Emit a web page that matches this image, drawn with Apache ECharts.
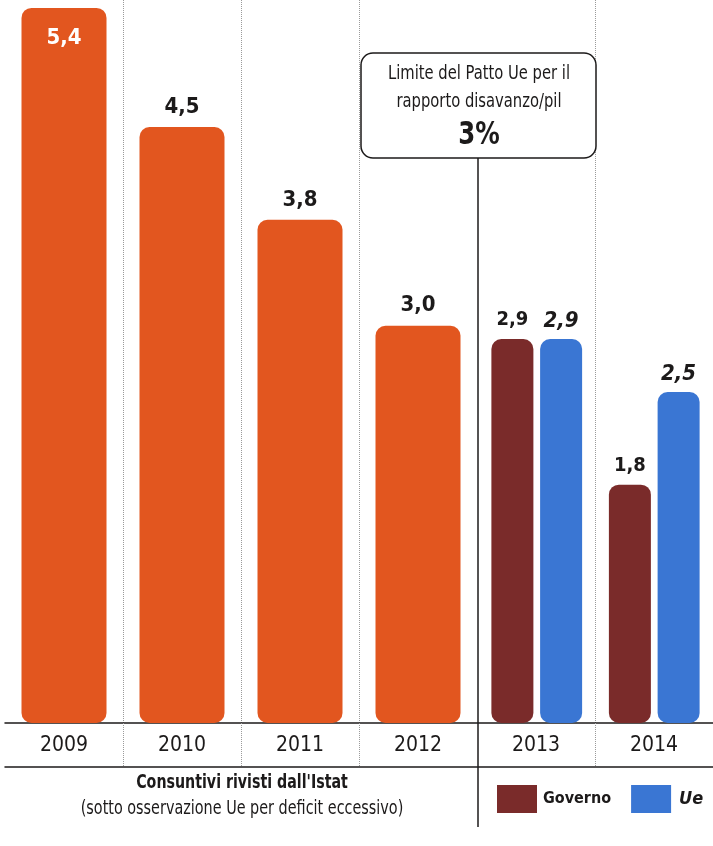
<!DOCTYPE html>
<html>
<head>
<meta charset="utf-8">
<style>
  html, body { margin: 0; padding: 0; background: #ffffff; }
  #chart { width: 713px; height: 846px; }
</style>
<script src="https://cdn.jsdelivr.net/npm/echarts@6/dist/echarts.min.js"></script>
</head>
<body>
<div id="chart"></div>
<script>
// ---- data ----
const categories = ['2009', '2010', '2011', '2012', '2013', '2014'];
const consuntivi = [5.4, 4.5, 3.8, 3.0, null, null];
const governo = [null, null, null, null, 2.9, 1.8];
const ue = [null, null, null, null, 2.9, 2.5];
const seriesNames = ['Consuntivi', 'Governo', 'Ue'];
const boxLines = ['Limite del Patto Ue per il', 'rapporto disavanzo/pil', '3%'];
const footTitle = "Consuntivi rivisti dall'Istat";
const footSub = '(sotto osservazione Ue per deficit eccessivo)';

// ---- styles ----
const FONT = "'Liberation Sans Narrow', 'DejaVu Sans Condensed', 'Roboto', sans-serif";
const INK = '#1c1a1a';
const ORANGE = '#e2561f';
const MAROON = '#7a2b2a';
const BLUE = '#3a76d3';

const fmt = p => (p.value == null ? '' : Number(p.value).toFixed(1).replace('.', ','));
const maxVal = Math.max(...consuntivi.filter(v => v != null));
const skipBoundary = (idx) => idx !== 0 && idx !== 4;

const chart = echarts.init(document.getElementById('chart'), null, { renderer: 'canvas' });

const option = {
  backgroundColor: '#ffffff',
  animation: false,
  grid: [
    { left: 5, right: 0, top: 0, bottom: 123, containLabel: false },
    { left: 8, right: 0, top: 0, bottom: 123, containLabel: false }
  ],
  legend: {
    data: ['Governo', 'Ue'],
    left: 492, top: 780, width: 300,
    orient: 'horizontal',
    itemWidth: 40, itemHeight: 28, itemGap: 20,
    icon: 'rect',
    selectedMode: false,
    formatter: n => (n === 'Ue' ? '{u|Ue}' : '{g|Governo}'),
    textStyle: {
      rich: {
        g: { fontFamily: FONT, fontSize: 16, fontWeight: 'bold', color: INK, padding: [0, 0, 0, 1] },
        u: { fontFamily: FONT, fontSize: 18, fontWeight: 'bold', fontStyle: 'italic', color: INK, padding: [0, 0, 0, 3] }
      }
    }
  },
  xAxis: [
    {
      type: 'category', gridIndex: 0, data: categories, boundaryGap: true,
      axisLine: { show: true, lineStyle: { color: INK, width: 1.5 } },
      axisTick: { show: true, length: 44, interval: skipBoundary, lineStyle: { color: '#9a9a9a', type: 'dotted', width: 1 } },
      axisLabel: { fontFamily: FONT, fontSize: 21, color: INK, margin: 12 },
      splitLine: { show: true, interval: skipBoundary, lineStyle: { color: '#9a9a9a', type: 'dotted', width: 1 } },
      z: 1
    },
    { type: 'category', gridIndex: 1, data: categories, show: false },
    {
      type: 'category', gridIndex: 0, data: categories, position: 'bottom', offset: 44,
      axisLine: { show: true, lineStyle: { color: INK, width: 1.5 } },
      axisTick: { show: false }, axisLabel: { show: false }, splitLine: { show: false }
    }
  ],
  yAxis: [
    { type: 'value', gridIndex: 0, min: 0, max: 5.46, show: false, splitLine: { show: false } },
    { type: 'value', gridIndex: 1, min: 0, max: 5.46, show: false, splitLine: { show: false } }
  ],
  series: [
    {
      name: seriesNames[0], type: 'bar', xAxisIndex: 0, yAxisIndex: 0, barWidth: 85,
      itemStyle: { color: ORANGE, borderRadius: 10 },
      label: { show: true, position: 'top', distance: 9, formatter: fmt,
               fontFamily: FONT, fontSize: 22, fontWeight: 'bold', color: INK },
      data: consuntivi.map(v => (v === maxVal
        ? { value: v, label: { position: 'insideTop', distance: 19, color: '#ffffff' } }
        : v))
    },
    {
      name: seriesNames[1], type: 'bar', xAxisIndex: 1, yAxisIndex: 1, barWidth: 42, barGap: '16%',
      itemStyle: { color: MAROON, borderRadius: 10 },
      label: { show: true, position: 'top', distance: 9, formatter: fmt,
               fontFamily: FONT, fontSize: 20, fontWeight: 'bold', color: INK },
      data: governo
    },
    {
      name: seriesNames[2], type: 'bar', xAxisIndex: 1, yAxisIndex: 1, barWidth: 42, barGap: '16%',
      itemStyle: { color: BLUE, borderRadius: 10 },
      label: { show: true, position: 'top', distance: 7, formatter: fmt,
               fontFamily: FONT, fontSize: 22, fontWeight: 'bold', fontStyle: 'italic', color: INK },
      data: ue
    }
  ]
};
chart.setOption(option);

// annotation positioned from the axis: boundary between 2012 and 2013
const x12 = chart.convertToPixel({ xAxisIndex: 0 }, categories[3]);
const x13 = chart.convertToPixel({ xAxisIndex: 0 }, categories[4]);
const bx = (x12 + x13) / 2;

function condText(x, y, text, size, weight, sx) {
  return {
    type: 'text', z: 61, x: x, y: y, scaleX: sx,
    style: { x: 0, y: 0, text: text, align: 'center', verticalAlign: 'middle',
             fontFamily: FONT, fontSize: size, fontWeight: weight, fill: INK }
  };
}

chart.setOption({
  graphic: [
    { type: 'line', z: 50, shape: { x1: bx + 1, y1: 158, x2: bx + 1, y2: 827 }, style: { stroke: INK, lineWidth: 1.5 } },
    { type: 'rect', z: 60, shape: { x: bx - 116, y: 53, width: 235, height: 105, r: 12 },
      style: { fill: '#ffffff', stroke: INK, lineWidth: 1.5 } },
    condText(bx + 2, 74, boxLines[0], 20, 'normal', 0.82),
    condText(bx + 2, 102, boxLines[1], 20, 'normal', 0.82),
    condText(bx + 2, 136, boxLines[2], 32, 'bold', 0.85),
    condText(242, 783, footTitle, 20, 'bold', 0.79),
    condText(242, 809, footSub, 20, 'normal', 0.8)
  ]
});
</script>
</body>
</html>
